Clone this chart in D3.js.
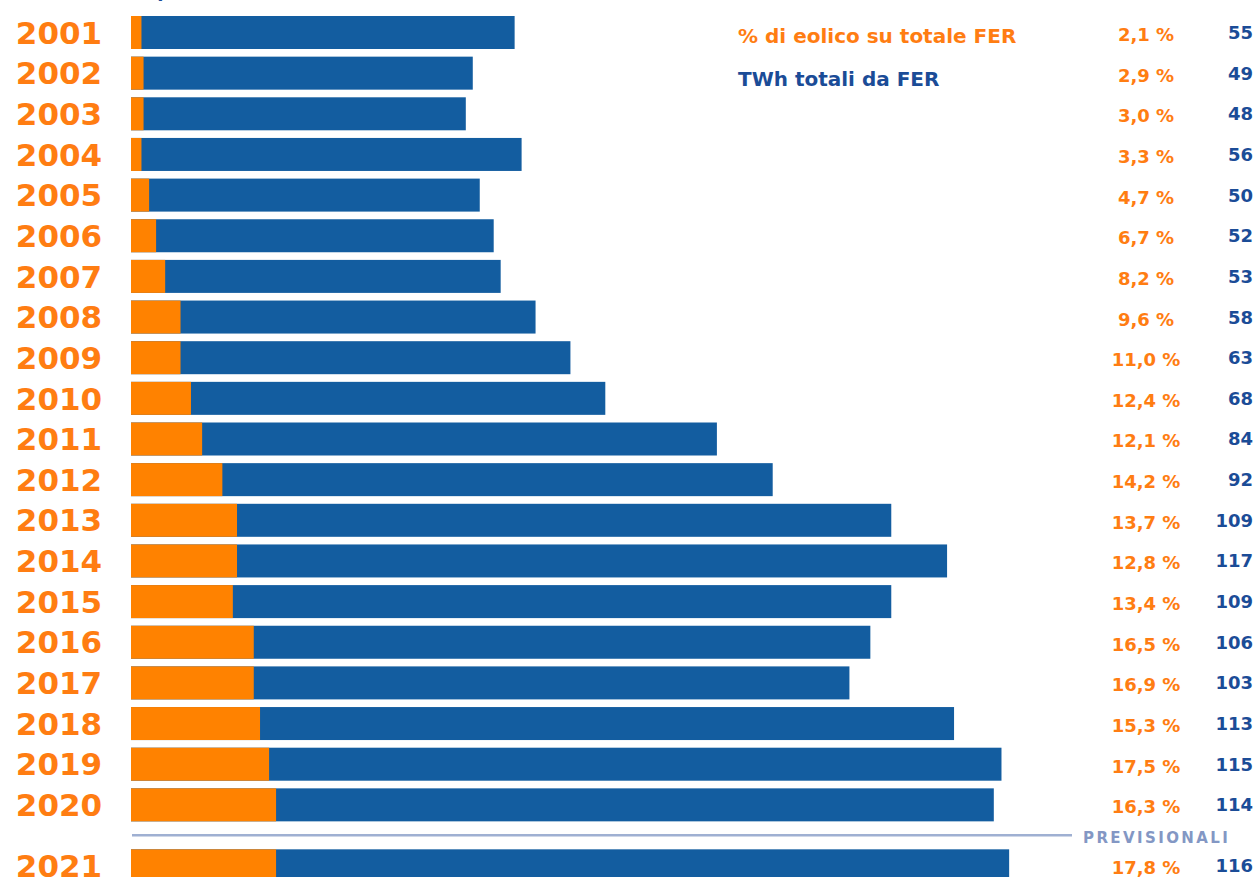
<!DOCTYPE html>
<html>
<head>
<meta charset="utf-8">
<script src="https://cdn.jsdelivr.net/npm/d3@7"></script>
<style>
  html, body { margin: 0; padding: 0; background: #fff; overflow: hidden; }
</style>
</head>
<body>
<div id="chart"></div>
<script>
// Data
var years = ['2001','2002','2003','2004','2005','2006','2007','2008','2009','2010',
             '2011','2012','2013','2014','2015','2016','2017','2018','2019','2020','2021'];
// % of wind on total renewables (label column)
var pctLabels = ['2,1','2,9','3,0','3,3','4,7','6,7','8,2','9,6','11,0','12,4',
                 '12,1','14,2','13,7','12,8','13,4','16,5','16,9','15,3','17,5','16,3','17,8'];
// total TWh from renewables (label column)
var twhLabels = [55,49,48,56,50,52,53,58,63,68,84,92,109,117,109,106,103,113,115,114,116];
// bar lengths as drawn (TWh): wind part and whole bar
var windBar  = [1.5,1.8,1.8,1.5,2.6,3.6,4.9,7.1,7.1,8.6,10.2,13.1,15.2,15.2,14.6,17.6,17.6,18.5,19.8,20.8,20.8];
var totalBar = [55,49,48,56,50,52,53,58,63,68,84,92,109,117,109,106,103,118,124.8,123.7,125.9];
var forecastFrom = '2021';

var width = 1256;
var height = 877;
var orange = '#ff8200';
var blue = '#135da0';
var textOrange = '#ff7d12';
var textBlue = '#1b4c97';

var svg = d3.select('#chart').append('svg')
    .attr('width', width)
    .attr('height', height);

var x = d3.scaleLinear()
    .domain([0, 130])
    .range([131, 131 + 130 * 6.975]);

// row index -> top of bar; forecast rows pushed down half a row
var rowPos = function(i) {
  return years[i] >= forecastFrom ? i + 0.5 : i;
};
var y = d3.scaleLinear()
    .domain([0, 1])
    .range([16, 16 + 40.65]);
var barH = 33;

var rows = years.map(function(yr, i) {
  return { year: yr, pct: pctLabels[i], twh: twhLabels[i], wind: windBar[i], total: totalBar[i], top: y(rowPos(i)) };
});

// cut-off subtitle at the very top
svg.append('text')
    .attr('x', 8)
    .attr('y', -3)
    .style('font-family', 'DejaVu Sans')
    .style('font-weight', 'bold')
    .style('font-size', '18px')
    .style('fill', textBlue)
    .text('(dati in TWh e percentuale sul totale)');

var g = svg.selectAll('g.row')
    .data(rows)
    .enter().append('g')
    .attr('class', 'row');

g.append('rect')
    .attr('x', x(0))
    .attr('y', function(d) { return d.top; })
    .attr('width', function(d) { return x(d.total) - x(0); })
    .attr('height', barH)
    .style('fill', blue);

g.append('rect')
    .attr('x', x(0))
    .attr('y', function(d) { return d.top; })
    .attr('width', function(d) { return x(d.wind) - x(0); })
    .attr('height', barH)
    .style('fill', orange);

g.append('text')
    .attr('x', 59)
    .attr('y', function(d) { return d.top + barH / 2; })
    .attr('dy', '0.36em')
    .attr('text-anchor', 'middle')
    .style('font-family', 'DejaVu Sans')
    .style('font-weight', 'bold')
    .style('font-size', '31px')
    .style('fill', textOrange)
    .text(function(d) { return d.year; });

g.append('text')
    .attr('x', 1146)
    .attr('y', function(d) { return d.top + barH / 2 + 2; })
    .attr('dy', '0.36em')
    .attr('text-anchor', 'middle')
    .style('font-family', 'DejaVu Sans')
    .style('font-weight', 'bold')
    .style('font-size', '18px')
    .style('fill', textOrange)
    .text(function(d) { return d.pct + ' %'; });

g.append('text')
    .attr('x', 1253)
    .attr('y', function(d) { return d.top + barH / 2; })
    .attr('dy', '0.36em')
    .attr('text-anchor', 'end')
    .style('font-family', 'DejaVu Sans')
    .style('font-weight', 'bold')
    .style('font-size', '18px')
    .style('fill', textBlue)
    .text(function(d) { return d.twh; });

// legend
svg.append('text')
    .attr('x', 738)
    .attr('y', 36)
    .attr('dy', '0.36em')
    .style('font-family', 'DejaVu Sans')
    .style('font-weight', 'bold')
    .style('font-size', '20px')
    .style('fill', textOrange)
    .text('% di eolico su totale FER');

svg.append('text')
    .attr('x', 738)
    .attr('y', 79)
    .attr('dy', '0.36em')
    .style('font-family', 'DejaVu Sans')
    .style('font-weight', 'bold')
    .style('font-size', '20px')
    .style('fill', textBlue)
    .text('TWh totali da FER');

// separator before forecast years
var fi = years.indexOf(forecastFrom);
var sepY = (y(rowPos(fi - 1)) + barH + y(rowPos(fi))) / 2;
svg.append('line')
    .attr('x1', 132)
    .attr('x2', 1072)
    .attr('y1', sepY)
    .attr('y2', sepY)
    .style('stroke', '#9fb0d2')
    .style('stroke-width', 2.5);

svg.append('text')
    .attr('x', 1083)
    .attr('y', sepY + 2)
    .attr('dy', '0.36em')
    .style('font-family', 'DejaVu Sans')
    .style('font-weight', 'bold')
    .style('font-size', '15px')
    .style('letter-spacing', '2.4px')
    .style('fill', '#8397c4')
    .text('PREVISIONALI');
</script>
</body>
</html>
